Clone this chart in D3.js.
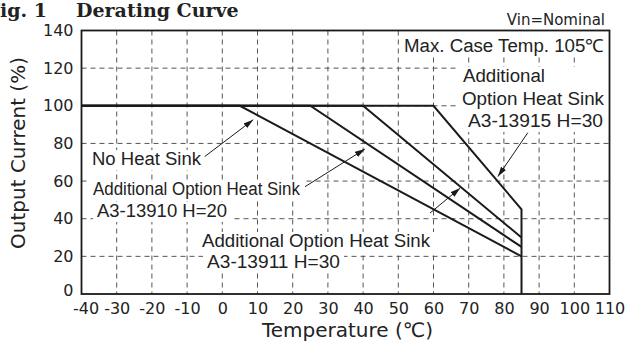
<!DOCTYPE html>
<html>
<head>
<meta charset="utf-8">
<script src="https://cdn.jsdelivr.net/npm/d3@7"></script>
<style>
  body { margin: 0; background: #fff; }
  svg { display: block; }
</style>
</head>
<body>
<div id="chart"></div>
<script>
// ---- data ----
const xTicks = [-40, -30, -20, -10, 0, 10, 20, 30, 40, 50, 60, 70, 80, 90, 100, 110];
const yTicks = [0, 20, 40, 60, 80, 100, 120, 140];

// derating curves [temperature, output current %]
const noHeatSink = [[-40, 100], [5, 100], [85, 20]];
const sink13910 = [[-40, 100], [25, 100], [85, 25]];
const sink13911 = [[-40, 100], [40, 100], [85, 30]];
const sink13915 = [[-40, 100], [60, 100], [85, 45], [85, 0]];
const curves = [noHeatSink, sink13910, sink13911, sink13915];

// annotation arrows, [from, to] in data units
const arrowNoSink = [[-5, 73], [8.8, 92.6]];
const arrow13910 = [[23.5, 57], [40.5, 77]];
const arrow13911 = [[59, 43], [67.6, 56.3]];
const arrow13915 = [[86.8, 85.7], [78.3, 62.4]];
const arrows = [arrowNoSink, arrow13910, arrow13911, arrow13915];

// ---- layout ----
const W = 627, H = 342;
const PLOT = { left: 81.5, right: 609.5, top: 30.5, bottom: 294 };
const SANS = "'DejaVu Sans', sans-serif";
const LABEL_FONT = "'Liberation Sans', Arial, sans-serif";

const svg = d3.select("#chart").append("svg")
  .attr("width", W)
  .attr("height", H);

const x = d3.scaleLinear().domain([-40, 110]).range([PLOT.left, PLOT.right]);
const y = d3.scaleLinear().domain([0, 140]).range([PLOT.bottom, PLOT.top]);

// title
svg.append("text")
  .attr("x", 47).attr("y", 17)
  .attr("text-anchor", "end")
  .attr("font-family", "'DejaVu Serif', serif")
  .attr("font-weight", "bold")
  .attr("font-size", "19px")
  .attr("fill", "#222")
  .text("Fig. 1");
svg.append("text")
  .attr("x", 76).attr("y", 17)
  .attr("font-family", "'DejaVu Serif', serif")
  .attr("font-weight", "bold")
  .attr("font-size", "19px")
  .attr("fill", "#222")
  .text("Derating Curve");

svg.append("text")
  .attr("x", 605).attr("y", 25)
  .attr("text-anchor", "end")
  .attr("font-family", SANS)
  .attr("font-size", "15px")
  .attr("fill", "#222")
  .text("Vin=Nominal");

// grid
const grid = svg.append("g").attr("stroke", "#555").attr("stroke-width", 1).attr("stroke-dasharray", "5,4");
grid.selectAll("line.v")
  .data(xTicks.slice(1, -1))
  .enter().append("line")
  .attr("class", "v")
  .attr("x1", d => x(d)).attr("x2", d => x(d))
  .attr("y1", PLOT.top).attr("y2", PLOT.bottom);
grid.selectAll("line.h")
  .data(yTicks.slice(1, -1))
  .enter().append("line")
  .attr("class", "h")
  .attr("x1", PLOT.left).attr("x2", PLOT.right)
  .attr("y1", d => y(d)).attr("y2", d => y(d));

// axes (labels only, frame drawn separately)
const xAxis = svg.append("g")
  .attr("transform", `translate(0, ${PLOT.bottom})`)
  .call(d3.axisBottom(x).tickValues(xTicks).tickSize(0).tickPadding(9).tickFormat(d => String(d)));
xAxis.select(".domain").remove();
xAxis.selectAll("text")
  .attr("font-family", SANS).attr("font-size", "16px").attr("fill", "#222")
  .attr("dx", d => d === -40 ? 4 : 0);

const yAxis = svg.append("g")
  .attr("transform", `translate(${PLOT.left - 8}, 0)`)
  .call(d3.axisLeft(y).tickValues(yTicks).tickSize(0).tickPadding(0));
yAxis.select(".domain").remove();
yAxis.selectAll("text")
  .attr("font-family", SANS).attr("font-size", "16px").attr("fill", "#222")
  .attr("dy", d => d === 0 ? "0.1em" : "0.32em");

// axis titles
svg.append("text")
  .attr("x", (PLOT.left + PLOT.right) / 2 + 2)
  .attr("y", 337)
  .attr("text-anchor", "middle")
  .attr("font-family", SANS).attr("font-size", "20px").attr("fill", "#222")
  .text("Temperature (℃)");
svg.append("text")
  .attr("transform", "translate(25, 153) rotate(-90)")
  .attr("text-anchor", "middle")
  .attr("font-family", SANS).attr("font-size", "20px").attr("fill", "#222")
  .text("Output Current (%)");

// annotation labels with white backing
const labelBlocks = [
  { lines: [["No Heat Sink", 92, 165, 109]] },
  { lines: [["Additional Option Heat Sink", 93, 195, 207]] },
  { lines: [["A3-13910  H=20", 97, 217, 130]] },
  { lines: [["Additional Option Heat Sink", 202, 247, 228]] },
  { lines: [["A3-13911 H=30", 207, 268, 133]] },
  { lines: [["Max. Case Temp. 105℃", 404, 52, 200]], toRight: true, toTop: true },
  { lines: [["Additional", 463, 82, 82], ["Option Heat Sink", 462, 105, 142], ["A3-13915 H=30", 468, 127, 135]], toRight: true }
];
const boxLayer = svg.append("g");
const textLayer = svg.append("g");
labelBlocks.forEach(b => {
  const boxes = b.lines.map(([t, lx, ly, w]) => {
    const el = textLayer.append("text")
      .attr("x", lx).attr("y", ly)
      .attr("font-family", LABEL_FONT).attr("font-size", "18px").attr("fill", "#222")
      .attr("textLength", w).attr("lengthAdjust", "spacingAndGlyphs")
      .text(t);
    return el.node().getBBox();
  });
  const x0 = d3.min(boxes, bb => bb.x) - 4;
  const x1 = b.toRight ? PLOT.right : d3.max(boxes, bb => bb.x + bb.width) + 4;
  const y0 = b.toTop ? PLOT.top : d3.min(boxes, bb => bb.y) + 1;
  const y1 = d3.max(boxes, bb => bb.y + bb.height) + 1;
  boxLayer.append("rect")
    .attr("x", x0).attr("y", y0)
    .attr("width", x1 - x0).attr("height", y1 - y0)
    .attr("fill", "#fff");
});

// curves
const line = d3.line().x(d => x(d[0])).y(d => y(d[1]));
svg.append("g").selectAll("path")
  .data(curves)
  .enter().append("path")
  .attr("d", line)
  .attr("fill", "none")
  .attr("stroke", "#1a1a1a")
  .attr("stroke-width", 2)
  .attr("stroke-linejoin", "miter");

// arrows
svg.append("defs").append("marker")
  .attr("id", "head")
  .attr("markerUnits", "userSpaceOnUse")
  .attr("markerWidth", 10).attr("markerHeight", 6)
  .attr("refX", 10).attr("refY", 3)
  .attr("orient", "auto")
  .append("path")
  .attr("d", "M0,0 L10,3 L0,6 Z")
  .attr("fill", "#1a1a1a");
svg.append("g").selectAll("line")
  .data(arrows)
  .enter().append("line")
  .attr("x1", d => x(d[0][0])).attr("y1", d => y(d[0][1]))
  .attr("x2", d => x(d[1][0])).attr("y2", d => y(d[1][1]))
  .attr("stroke", "#1a1a1a")
  .attr("stroke-width", 1)
  .attr("marker-end", "url(#head)");

// frame
svg.append("rect")
  .attr("x", PLOT.left).attr("y", PLOT.top)
  .attr("width", PLOT.right - PLOT.left).attr("height", PLOT.bottom - PLOT.top)
  .attr("fill", "none")
  .attr("stroke", "#1a1a1a")
  .attr("stroke-width", 1.8);
</script>
</body>
</html>
